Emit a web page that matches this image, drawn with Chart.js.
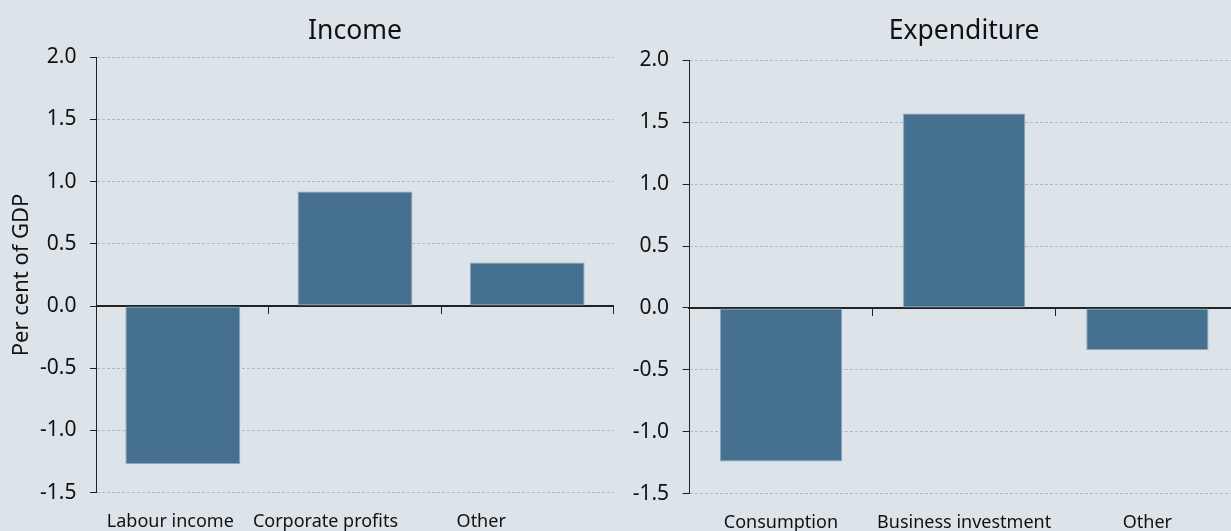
<!DOCTYPE html>
<html>
<head>
<meta charset="utf-8">
<script src="https://cdn.jsdelivr.net/npm/chart.js@4.4.1/dist/chart.umd.min.js"></script>
<style>
  html, body { margin: 0; padding: 0; width: 1231px; height: 531px; overflow: hidden; background: #dce3e9; }
  canvas { position: absolute; top: 0; }
  #income { left: 0; }
  #expenditure { left: 616px; }
</style>
</head>
<body>
<canvas id="income" width="620" height="531"></canvas>
<canvas id="expenditure" width="684" height="531"></canvas>
<script>
// values in per cent of GDP
const incomeLabels = ['Labour income', 'Corporate profits', 'Other'];
const incomeValues = [-1.27, 0.92, 0.35];
const expenditureLabels = ['Consumption', 'Business investment', 'Other'];
const expenditureValues = [-1.24, 1.57, -0.34];
const yTicks = [-1.5, -1.0, -0.5, 0.0, 0.5, 1.0, 1.5, 2.0];

const family = "'Noto Sans', sans-serif";
const ink = '#111111';
const axisInk = '#222222';
const gridInk = '#b3b8bd';
const barFill = '#46708f';
const barEdge = '#8aa6bb';

Chart.defaults.font.family = family;

function makeChart(id, title, labels, values, geo) {
  const scales = {
    x: {
      grid: { display: false, drawTicks: false },
      border: { display: false },
      ticks: { display: false },
      afterFit: s => { s.height = geo.xHeight; },
    },
    // zero line with category boundary ticks, drawn over the bars
    xZero: {
      type: 'category', position: { y: 0 }, offset: true, z: 1,
      grid: { offset: true, drawOnChartArea: false, drawTicks: true, tickLength: 7, tickColor: axisInk, tickWidth: 1 },
      border: { display: true, color: axisInk, width: 2 },
      ticks: { display: false },
    },
    y: {
      min: yTicks[0], max: yTicks[yTicks.length - 1],
      afterBuildTicks: s => { s.ticks = yTicks.map(v => ({ value: v })); },
      grid: { color: gridInk, lineWidth: 1, drawTicks: true, tickLength: 6.7, tickColor: axisInk, tickWidth: 1 },
      border: { display: true, color: axisInk, width: 1, dash: [3, 2] },
      ticks: { color: ink, font: { size: 21 }, padding: 13.5, callback: v => Number(v).toFixed(1) },
      title: geo.yTitle
        ? { display: true, text: geo.yTitle, color: ink, font: { size: 22 }, padding: { top: 9, bottom: 0 } }
        : { display: false },
      afterFit: s => { s.width = geo.yWidth; },
    },
  };
  // category names sit along the bottom edge; the income panel has them nudged left like the original
  labels.forEach((name, i) => {
    scales['xLabel' + i] = {
      type: 'category', position: { y: yTicks[0] }, offset: true,
      grid: { display: false, drawTicks: false },
      border: { display: false },
      ticks: {
        color: ink, font: { size: 18 }, padding: 18, maxRotation: 0, autoSkip: false,
        labelOffset: geo.labelShift[i],
        callback: (v, j) => (j === i ? labels[j] : ''),
      },
    };
  });

  return new Chart(document.getElementById(id), {
    type: 'bar',
    data: {
      labels,
      datasets: [{
        data: values,
        backgroundColor: barFill,
        borderColor: barEdge,
        borderWidth: 1,
        borderSkipped: false,
        categoryPercentage: 1,
        barPercentage: 0.667,
      }],
    },
    options: {
      responsive: false, animation: false, devicePixelRatio: 1,
      layout: { padding: { left: 0, right: geo.padRight, top: 0, bottom: 0 } },
      plugins: {
        legend: { display: false },
        tooltip: { enabled: false },
        title: {
          display: true, fullSize: false, text: title, color: ink,
          font: { size: 26.5, weight: 'normal' },
          padding: { top: 16, bottom: geo.titleGap },
        },
      },
      scales,
    },
  });
}

makeChart('income', 'Income', incomeLabels, incomeValues,
  { yWidth: 96.7, xHeight: 38.3, padRight: 6.7, titleGap: 9.4, yTitle: 'Per cent of GDP', labelShift: [-12.5, -29.5, -46] });
makeChart('expenditure', 'Expenditure', expenditureLabels, expenditureValues,
  { yWidth: 73.3, xHeight: 37.3, padRight: 61, titleGap: 12.5, labelShift: [0, 0, 0] });
</script>
</body>
</html>
